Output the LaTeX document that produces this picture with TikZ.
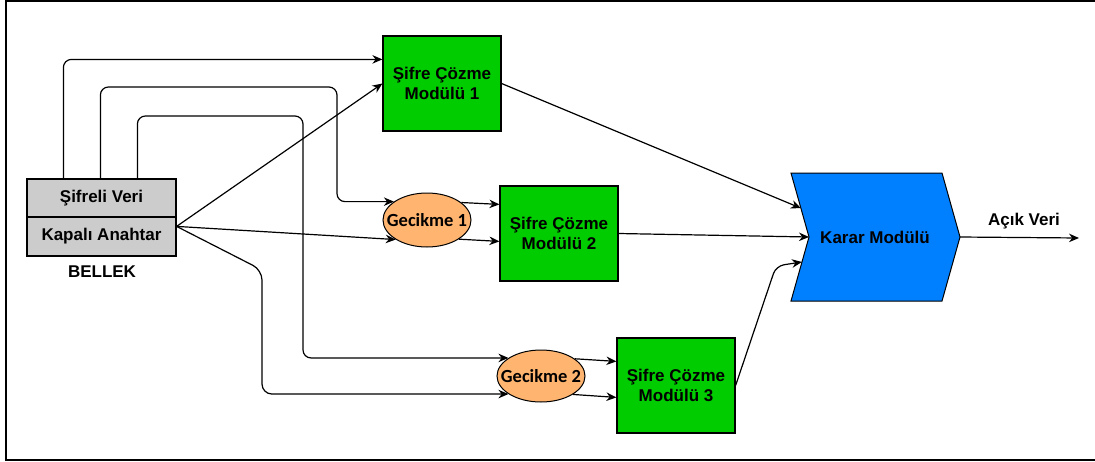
\documentclass[tikz,border=0pt]{standalone}
\usepackage{fontspec}
\setmainfont{Liberation Sans}
\newfontfamily\calfont{Carlito}
\usetikzlibrary{shapes.geometric,arrows.meta,calc}
\definecolor{modgreen}{HTML}{00CC00}
\definecolor{memgray}{HTML}{CCCCCC}
\definecolor{gecorange}{HTML}{FFB570}
\definecolor{kararblue}{HTML}{007FFF}
\tikzset{
  txt/.style={font=\fontsize{17}{20}\selectfont\bfseries, align=center},
  membox/.style={txt, draw, line width=1.2pt, fill=memgray, minimum width=149pt, inner sep=0pt},
  modbox/.style={txt, draw, line width=1.2pt, fill=modgreen, minimum width=118pt, minimum height=95pt, inner sep=0pt},
  gecnode/.style={ellipse, draw, line width=1pt, fill=gecorange, inner sep=0pt},
  gectext/.style={font=\calfont\bfseries\fontsize{18.5}{22}\selectfont},
  arr/.style={line width=1.2pt, -{Stealth[length=10pt,width=8.5pt]}},
}
\begin{document}
\begin{tikzpicture}[x=1pt,y=-1pt]
\useasboundingbox (0,0) rectangle (1095,461);
% frame
\draw[line width=2pt] (1095,1) -- (6,1) -- (6,460) -- (1095,460);

% memory
\node[membox, minimum height=38pt] (veri) at (101.5,198) {Şifreli Veri};
\node[membox, minimum height=39pt] (anahtar) at (101.5,236.5) {Kapalı Anahtar};
\node[txt] (bellek) at (102,272) {BELLEK};
\coordinate (src) at ($(anahtar.north east)+(0,10)$);

% decryption modules
\node[modbox] (m1) at (442,83.5) {Şifre Çözme\\Modülü 1};
\node[modbox] (m2) at (559,233.5) {Şifre Çözme\\Modülü 2};
\node[modbox] (m3) at (676,385.5) {Şifre Çözme\\Modülü 3};

% delays
\node[gecnode, minimum width=88pt, minimum height=54pt,
      label={[gectext]center:Gecikme 1}] (g1) at (427,220) {};
\node[gecnode, minimum width=88pt, minimum height=52pt,
      label={[gectext]center:Gecikme 2}] (g2) at (541,376) {};

% decision module
\coordinate (kTL) at (791,173);
\coordinate (kTR) at (942,173);
\coordinate (kTip) at (960,237);
\coordinate (kBR) at (942,301);
\coordinate (kBL) at (791,301);
\coordinate (kN) at (809,237);
\draw[line width=1pt, fill=kararblue] (kTL) -- (kTR) -- (kTip) -- (kBR) -- (kBL) -- (kN) -- cycle;
\node[txt] (karar) at (875,237) {Karar Modülü};
\coordinate (kin1) at ($(kTL)!0.55!(kN)$);
\coordinate (kin3) at ($(kN)!0.39!(kBL)$);

% output
\coordinate (out) at (1079,238);
\draw[arr] (kTip) -- (out);
\node[txt] (acik) at (1024,221) {Açık Veri};

% encrypted data lines
\draw[arr, rounded corners=8pt] ($(veri.north west)+(37,0)$) |- ($(m1.north west)+(0,24)$);
\draw[arr, rounded corners=8pt] ($(veri.north west)+(74,0)$) |- (337,87) |- (g1.151);
\draw[arr, rounded corners=8pt] ($(veri.north west)+(111,0)$) |- (303,116) |- (g2.151);

% key lines
\draw[arr] (src) -- (m1.west);
\draw[arr] (src) -- (g1.212);
\draw[arr, rounded corners=10pt] (src) -- (262,270) |- (g2.209);

% delays to modules
\draw[arr] (g1.27) -- ($(m2.north west)+(0,19)$);
\draw[arr] (g1.329) -- ($(m2.north west)+(0,56)$);
\draw[arr] (g2.27) -- ($(m3.north west)+(0,24)$);
\draw[arr] (g2.330) -- ($(m3.north west)+(0,60)$);

% modules to decision
\draw[arr] (m1.east) -- (kin1);
\draw[arr] (m2.east) -- (kN);
\draw[arr, rounded corners=8pt] (m3.east) -- (776,266) -- (kin3);
\end{tikzpicture}
\end{document}
